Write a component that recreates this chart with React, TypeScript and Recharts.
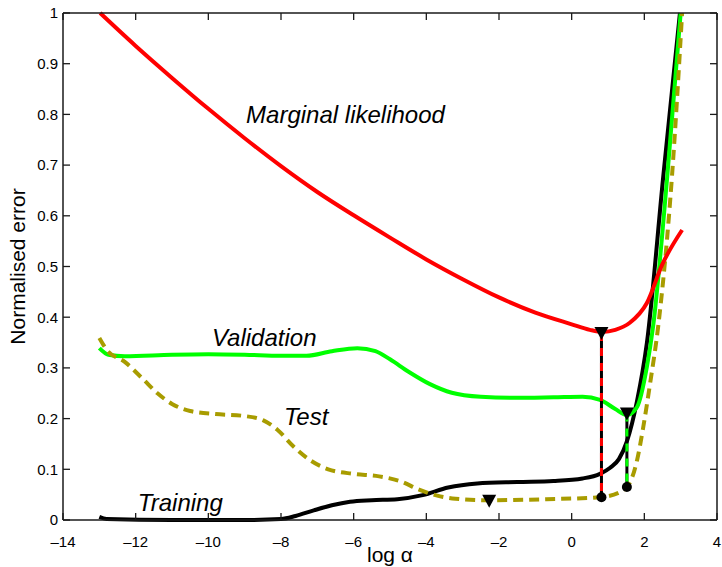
import React from 'react';
import { ComposedChart, Line, Scatter, XAxis, YAxis } from 'recharts';

// axis ticks
const xTicks = [-14, -12, -10, -8, -6, -4, -2, 0, 2, 4];
const yTicks = [0, 0.1, 0.2, 0.3, 0.4, 0.5, 0.6, 0.7, 0.8, 0.9, 1];

// curves: [log alpha, normalised error]
const marginalLikelihood = [
    [-12.98, 1.0], [-12, 0.935], [-11, 0.872], [-10, 0.811], [-9, 0.753], [-8, 0.698], [-7, 0.647],
    [-6, 0.601], [-5, 0.557], [-4, 0.514], [-3, 0.475], [-2, 0.439], [-1, 0.409], [0, 0.386],
    [0.5, 0.375], [0.84, 0.371], [1.2, 0.375], [1.6, 0.389], [2.07, 0.428], [2.5, 0.505], [3.04, 0.572],
];
const validation = [
    [-13.0, 0.339], [-12.75, 0.326], [-12.3, 0.323], [-11, 0.326], [-10, 0.327], [-9, 0.326],
    [-8.0, 0.324], [-7.3, 0.324], [-6.6, 0.333], [-5.9, 0.339], [-5.4, 0.333], [-5.0, 0.317],
    [-4.5, 0.293], [-3.9, 0.268], [-3.3, 0.251], [-2.5, 0.243], [-1.6, 0.241], [-0.5, 0.242],
    [0.3, 0.243], [0.78, 0.237], [1.2, 0.219], [1.52, 0.207], [1.8, 0.223], [2.07, 0.302],
    [2.24, 0.381], [2.63, 0.677], [3.0, 1.0],
];
const test = [
    [-13.0, 0.359], [-12.79, 0.335], [-12.3, 0.312], [-11.8, 0.278], [-11.4, 0.25], [-11.0, 0.229],
    [-10.5, 0.215], [-9.8, 0.209], [-9.0, 0.205], [-8.5, 0.197], [-8.1, 0.178], [-7.67, 0.146],
    [-7.2, 0.118], [-6.7, 0.1], [-6.0, 0.091], [-5.3, 0.086], [-4.7, 0.076], [-4.2, 0.06],
    [-3.7, 0.048], [-3.2, 0.042], [-2.33, 0.039], [-0.7, 0.041], [0.78, 0.045], [1.33, 0.055],
    [1.61, 0.075], [1.8, 0.118], [1.97, 0.183], [2.16, 0.27], [2.38, 0.381], [2.76, 0.677], [3.04, 1.0],
];
const training = [
    [-13.0, 0.006], [-12.8, 0.002], [-11.0, 0.0], [-9.0, 0.0], [-8.0, 0.002], [-7.6, 0.008],
    [-7.1, 0.019], [-6.6, 0.029], [-6.1, 0.036], [-5.5, 0.039], [-4.8, 0.041], [-4.1, 0.049],
    [-3.4, 0.064], [-2.6, 0.072], [-1.5, 0.075], [-0.5, 0.077], [0.3, 0.082], [0.78, 0.091],
    [1.06, 0.103], [1.3, 0.12], [1.52, 0.155], [1.8, 0.235], [2.07, 0.349], [2.52, 0.677], [2.98, 1.0],
];

// chosen alpha: from the minimum of each criterion down to the test error
const mlDrop = [[0.82, 0.369], [0.82, 0.045]];
const valDrop = [[1.52, 0.21], [1.52, 0.065]];
const minima = [[0.82, 0.369], [1.52, 0.21], [-2.27, 0.038]];
const picked = [[0.82, 0.045], [1.52, 0.065]];

const curveLabels = [
    { x: -8.96, y: 0.783, text: 'Marginal likelihood' },
    { x: -9.9, y: 0.343, text: 'Validation' },
    { x: -7.92, y: 0.187, text: 'Test' },
    { x: -11.94, y: 0.018, text: 'Training' },
];

const X_MIN = -14, X_MAX = 4, Y_MIN = 0, Y_MAX = 1;

const pts = (arr: number[][]) => arr.map(([x, y]) => ({ x, y }));

const font = '"Liberation Sans", Arial, Helvetica, sans-serif';
const axisColor = '#1a1a1a';
const TICK = 7;
const fmtX = (v: number) => (v < 0 ? '\u2013' + Math.abs(v) : String(v));

const BottomTick = (p: any) => (
    <text x={p.x} y={p.y} dy="0.71em" textAnchor="middle" fontSize={15} fontFamily={font} fill="#000">
        {fmtX(p.payload.value)}
    </text>
);
const LeftTick = (p: any) => (
    <text x={p.x} y={p.y} dy="0.355em" textAnchor="end" fontSize={15} fontFamily={font} fill="#000">
        {String(Math.round(p.payload.value * 10) / 10)}
    </text>
);

// inward tick marks on the box (MATLAB style), drawn as scatter symbols on the edges
const tickShape = (dx: number, dy: number) => (p: any) => (
    <path d={`M${p.cx},${p.cy}l${dx * TICK},${dy * TICK}`} stroke={axisColor} strokeWidth={1.3} fill="none" />
);
const bottomTicks = xTicks.map((x) => ({ x, y: Y_MIN }));
const topTicks = xTicks.map((x) => ({ x, y: Y_MAX }));
const leftTicks = yTicks.map((y) => ({ x: X_MIN, y }));
const rightTicks = yTicks.map((y) => ({ x: X_MAX, y }));
const topEdge = [{ x: X_MIN, y: Y_MAX }, { x: X_MAX, y: Y_MAX }];
const rightEdge = [{ x: X_MAX, y: Y_MIN }, { x: X_MAX, y: Y_MAX }];

const Triangle = (p: any) => (
    <path d={`M${p.cx - 7},${p.cy - 6}L${p.cx + 7},${p.cy - 6}L${p.cx},${p.cy + 7}Z`} fill="#000" />
);
const Dot = (p: any) => <circle cx={p.cx} cy={p.cy} r={5} fill="#000" />;
const CurveText = (p: any) => (
    <text x={p.cx} y={p.cy} fontSize={24} fontStyle="italic" fontFamily={font} fill="#000">
        {p.payload.text}
    </text>
);

const YTitle = (props: any) => {
    const vb = props.viewBox || { x: 0, y: 13, width: 63, height: 507 };
    const x = vb.x + 25;
    const y = vb.y + vb.height / 2;
    return (
        <text x={x} y={y} transform={`rotate(-90 ${x} ${y})`} textAnchor="middle" fontSize={21} fontFamily={font} fill="#000">
            Normalised error
        </text>
    );
};

export default function App() {
    return (
        <div style={{ position: 'absolute', left: 0, top: 0 }}>
            <ComposedChart width={722} height={567} margin={{ top: 13, right: 5, bottom: 0, left: 0 }}>
                <XAxis
                    dataKey="x"
                    type="number"
                    domain={[X_MIN, X_MAX]}
                    ticks={xTicks}
                    height={47}
                    tickSize={0}
                    tickMargin={16}
                    tick={<BottomTick />}
                    stroke={axisColor}
                    strokeWidth={1.5}
                    label={{ value: 'log \u03b1', position: 'insideBottom', offset: 5, fill: '#000', fontSize: 21, fontFamily: font }}
                />
                <YAxis
                    dataKey="y"
                    type="number"
                    domain={[Y_MIN, Y_MAX]}
                    ticks={yTicks}
                    width={63}
                    tickSize={0}
                    tickMargin={5}
                    tick={<LeftTick />}
                    stroke={axisColor}
                    strokeWidth={1.5}
                    label={{ content: (props: any) => <YTitle {...props} /> }}
                />

                <Line data={pts(training)} dataKey="y" type="monotone" stroke="#000" strokeWidth={4}
                    dot={false} activeDot={false} isAnimationActive={false} />
                <Line data={pts(validation)} dataKey="y" type="monotone" stroke="#00ff00" strokeWidth={4}
                    dot={false} activeDot={false} isAnimationActive={false} />
                <Line data={pts(test)} dataKey="y" type="monotone" stroke="#a89c00" strokeWidth={4}
                    strokeDasharray="10 6" dot={false} activeDot={false} isAnimationActive={false} />
                <Line data={pts(marginalLikelihood)} dataKey="y" type="monotone" stroke="#ff0000" strokeWidth={4}
                    dot={false} activeDot={false} isAnimationActive={false} />

                <Line data={pts(mlDrop)} dataKey="y" type="linear" stroke="#000" strokeWidth={3}
                    dot={false} activeDot={false} isAnimationActive={false} />
                <Line data={pts(mlDrop)} dataKey="y" type="linear" stroke="#ff0000" strokeWidth={3}
                    strokeDasharray="8 7" dot={false} activeDot={false} isAnimationActive={false} />
                <Line data={pts(valDrop)} dataKey="y" type="linear" stroke="#000" strokeWidth={3}
                    dot={false} activeDot={false} isAnimationActive={false} />
                <Line data={pts(valDrop)} dataKey="y" type="linear" stroke="#00ff00" strokeWidth={3}
                    strokeDasharray="8 7" dot={false} activeDot={false} isAnimationActive={false} />

                <Scatter data={pts(minima)} shape={Triangle} isAnimationActive={false} />
                <Scatter data={pts(picked)} shape={Dot} isAnimationActive={false} />
                <Scatter data={curveLabels} shape={CurveText} isAnimationActive={false} />

                {/* box: top and right edges, and inward ticks on all four sides (drawn last) */}
                <Line data={topEdge} dataKey="y" type="linear" stroke={axisColor} strokeWidth={1.5}
                    dot={false} activeDot={false} isAnimationActive={false} />
                <Line data={rightEdge} dataKey="y" type="linear" stroke={axisColor} strokeWidth={1.5}
                    dot={false} activeDot={false} isAnimationActive={false} />
                <Scatter data={bottomTicks} shape={tickShape(0, -1)} isAnimationActive={false} />
                <Scatter data={topTicks} shape={tickShape(0, 1)} isAnimationActive={false} />
                <Scatter data={leftTicks} shape={tickShape(1, 0)} isAnimationActive={false} />
                <Scatter data={rightTicks} shape={tickShape(-1, 0)} isAnimationActive={false} />
            </ComposedChart>
        </div>
    );
}
